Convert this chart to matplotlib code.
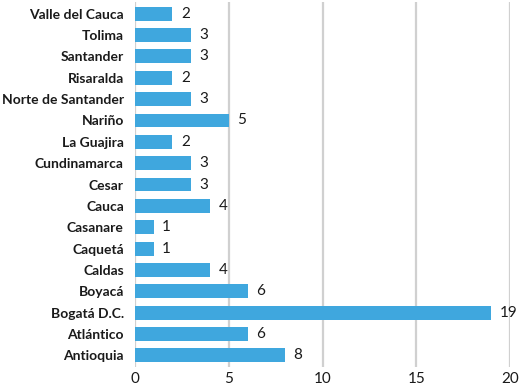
import matplotlib.pyplot as plt

# Departamentos (de abajo hacia arriba) y sus valores
departamentos = ['Antioquia', 'Atlántico', 'Bogatá D.C.', 'Boyacá', 'Caldas',
                 'Caquetá', 'Casanare', 'Cauca', 'Cesar', 'Cundinamarca',
                 'La Guajira', 'Nariño', 'Norte de Santander', 'Risaralda',
                 'Santander', 'Tolima', 'Valle del Cauca']
valores = [8, 6, 19, 6, 4, 1, 1, 4, 3, 3, 2, 5, 3, 2, 3, 3, 2]
ticks_x = [0, 5, 10, 15, 20]

plt.rcParams['font.family'] = ['Lato', 'DejaVu Sans']

fig = plt.figure(figsize=(5.19, 3.91), dpi=100)
ax = fig.add_axes([0.26, 0.061, 0.723, 0.934])

barras = ax.barh(departamentos, valores, height=0.65, color='#3FA7DE', zorder=3)
ax.bar_label(barras, padding=6, fontsize=11, color='#1a1a1a')

ax.set_xlim(0, 20)
ax.set_ylim(-0.55, len(departamentos) - 0.45)
ax.set_xticks(ticks_x)
ax.grid(axis='x', color='#d0d0d0', linewidth=1.6, zorder=0)
for s in ax.spines.values():
    s.set_visible(False)
ax.tick_params(axis='x', length=0, labelsize=11, colors='#1a1a1a')
ax.tick_params(axis='y', length=0, labelsize=10, colors='#1a1a1a', pad=8)
for t in ax.get_yticklabels():
    t.set_fontweight('bold')

plt.savefig('out.png', dpi=100)
